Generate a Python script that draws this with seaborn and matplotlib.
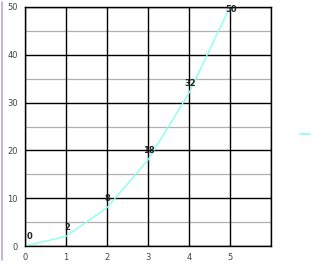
import matplotlib
matplotlib.use("Agg")
import matplotlib.pyplot as plt
import seaborn as sns
import pandas as pd
from matplotlib.lines import Line2D

x_vals = [0, 1, 2, 3, 4, 5]
y_vals = [0, 2, 8, 18, 32, 50]
point_labels = ["0", "2", "8", "18", "32", "50"]
x_ticks = [0, 1, 2, 3, 4, 5, 6]
x_tick_labels = ["0", "1", "2", "3", "4", "5", ""]
y_major = [0, 10, 20, 30, 40, 50]
y_minor = [5, 15, 25, 35, 45]

sns.set_theme(style="white")
plt.rcParams['font.family'] = ['DejaVu Sans']

df = pd.DataFrame({"x": x_vals, "y": y_vals})

fig = plt.figure(figsize=(3.21, 2.64), dpi=100)
ax = fig.add_axes([25/321, 18/264, 246/321, 239/264])

line_color = "#88fff0"
sns.lineplot(data=df, x="x", y="y", ax=ax, color=line_color, linewidth=1.0, legend=False)

ax.set_xlim(0, 6)
ax.set_ylim(0, 50)
ax.set_xticks(x_ticks)
ax.set_xticklabels(x_tick_labels)
ax.set_yticks(y_major)
ax.set_yticks(y_minor, minor=True)
ax.set_xlabel("")
ax.set_ylabel("")

ax.grid(False)
for yv in y_minor:
    ax.axhline(yv, color="#b0b0b0", linewidth=0.9, zorder=0)
for yv in y_major:
    ax.axhline(yv, color="black", linewidth=1.0, zorder=0.5)
for xv in x_ticks:
    ax.axvline(xv, color="black", linewidth=1.0, zorder=0.5)

for s in ax.spines.values():
    s.set_color("black")
    s.set_linewidth(1.0)

ax.tick_params(axis="both", which="major", labelsize=6, colors="black",
               length=3, width=1, direction="out", pad=2)
ax.tick_params(axis="y", which="minor", length=0)
ax.tick_params(axis="both", labelcolor="#444444")

for i, (xv, yv, lab) in enumerate(zip(x_vals, y_vals, point_labels)):
    ty = min(yv + 1.9, 49.4)
    tx = xv + (0.05 if i == 0 else 0.02)
    ax.text(tx, ty, lab, ha="left" if i == 0 else "center", va="center",
            fontsize=6, fontweight="bold", color="#222222")

fig.add_artist(Line2D([2/321, 2/321], [4/264, 262/264], color="#c0a8cc", linewidth=1.2))
fig.add_artist(Line2D([300/321, 310/321], [130/264, 130/264], color=line_color, linewidth=1.2))

fig.savefig("out.png", dpi=100)
